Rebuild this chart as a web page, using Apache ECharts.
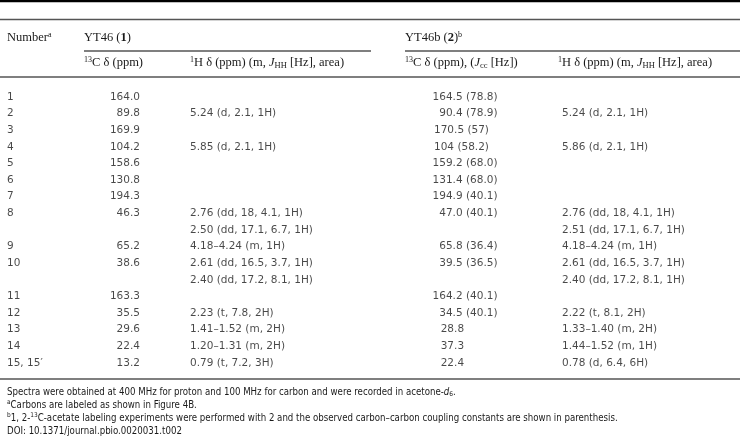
<!DOCTYPE html>
<html>
<head>
<meta charset="utf-8">
<script src="https://cdn.jsdelivr.net/npm/echarts@6/dist/echarts.min.js"></script>
<style>
  html, body { margin: 0; padding: 0; background: #fff; }
  #chart { width: 740px; height: 437px; }
</style>
</head>
<body>
<div id="chart"></div>
<script>
// ---------- DATA ----------
const carbonNumbers = ['1', '2', '3', '4', '5', '6', '7', '8', '', '9', '10', '', '11', '12', '13', '14', '15, 15\u2032'];
const yt46Carbon = ['164.0', '89.8', '169.9', '104.2', '158.6', '130.8', '194.3', '46.3', '', '65.2', '38.6', '', '163.3', '35.5', '29.6', '22.4', '13.2'];
const yt46Proton = ['', '5.24 (d, 2.1, 1H)', '', '5.85 (d, 2.1, 1H)', '', '', '', '2.76 (dd, 18, 4.1, 1H)', '2.50 (dd, 17.1, 6.7, 1H)', '4.18\u20134.24 (m, 1H)', '2.61 (dd, 16.5, 3.7, 1H)', '2.40 (dd, 17.2, 8.1, 1H)', '', '2.23 (t, 7.8, 2H)', '1.41\u20131.52 (m, 2H)', '1.20\u20131.31 (m, 2H)', '0.79 (t, 7.2, 3H)'];
const yt46bCarbon = ['164.5 (78.8)', '90.4 (78.9)', '170.5 (57)', '104 (58.2)', '159.2 (68.0)', '131.4 (68.0)', '194.9 (40.1)', '47.0 (40.1)', '', '65.8 (36.4)', '39.5 (36.5)', '', '164.2 (40.1)', '34.5 (40.1)', '28.8', '37.3', '22.4'];
const yt46bProton = ['', '5.24 (d, 2.1, 1H)', '', '5.86 (d, 2.1, 1H)', '', '', '', '2.76 (dd, 18, 4.1, 1H)', '2.51 (dd, 17.1, 6.7, 1H)', '4.18\u20134.24 (m, 1H)', '2.61 (dd, 16.5, 3.7, 1H)', '2.40 (dd, 17.2, 8.1, 1H)', '', '2.22 (t, 8.1, 2H)', '1.33\u20131.40 (m, 2H)', '1.44\u20131.52 (m, 1H)', '0.78 (d, 6.4, 6H)'];

const headerNumber = 'Number{sup|a}';
const headerGroup1 = 'YT46 ({b|1})';
const headerGroup2 = 'YT46b ({b|2}){sup|b}';
const headerC1 = '{sup|13}C \u03b4 (ppm)';
const headerH1 = '{sup|1}H \u03b4 (ppm) (m, {i|J}{sub|HH} [Hz], area)';
const headerC2 = '{sup|13}C \u03b4 (ppm), ({i|J}{sub|cc} [Hz])';
const headerH2 = '{sup|1}H \u03b4 (ppm) (m, {i|J}{sub|HH} [Hz], area)';

const footnotes = [
  'Spectra were obtained at 400 MHz for proton and 100 MHz for carbon and were recorded in acetone-{i|d}{sub|6}.',
  '{sup|a}Carbons are labeled as shown in Figure 4B.',
  '{sup|b}1, 2-{sup|13}C-acetate labeling experiments were performed with 2 and the observed carbon\u2013carbon coupling constants are shown in parenthesis.',
  'DOI: 10.1371/journal.pbio.0020031.t002'
];

// ---------- LAYOUT / STYLE ----------
const W = 740;
const BODY_FONT = 'DejaVu Sans';
const BODY_SIZE = 10.5;
const HEAD_FONT = 'Liberation Serif';
const HEAD_SIZE = 12.5;
const NOTE_FONT = '"DejaVu Sans Condensed", "Roboto Condensed", "Liberation Sans Narrow", "Open Sans", sans-serif';
const NOTE_SIZE = 9.6;
const TXT = '#1a1a1a';
const RULE = '#555';

// column anchors (scale units == px across full-width grid)
const COL = { num: 7, c1: 140, h1: 190, c2L: 434, c2R: 497.5, h2: 562 };

const rowIdx = carbonNumbers.map((_, i) => String(i));

function cellSeries(name, values, x, side, transform) {
  return {
    name: name,
    type: 'scatter',
    symbolSize: 0,
    silent: true,
    data: values.map((v, i) => v === '' ? null : { value: [x, i], text: transform ? transform(v) : v }).filter(d => d),
    label: {
      show: true,
      position: side,
      distance: 0,
      formatter: p => p.data.text,
      fontFamily: BODY_FONT,
      fontSize: BODY_SIZE,
      color: TXT
    }
  };
}

const fullPair = /^\d+\.\d \(\d+\.\d\)$/;
const c2Right = yt46bCarbon.map(v => fullPair.test(v) ? v : '');
const c2Left = yt46bCarbon.map(v => fullPair.test(v) ? '' : v);

const headRich = {
  sup: { fontFamily: HEAD_FONT, fontSize: 8, verticalAlign: 'top', lineHeight: 9, color: TXT },
  sub: { fontFamily: HEAD_FONT, fontSize: 8.5, verticalAlign: 'bottom', lineHeight: 9, color: TXT },
  i: { fontFamily: HEAD_FONT, fontSize: HEAD_SIZE, fontStyle: 'italic', lineHeight: 15, color: TXT },
  b: { fontFamily: HEAD_FONT, fontSize: HEAD_SIZE, fontWeight: 'bold', lineHeight: 15, color: TXT }
};
const noteRich = {
  sup: { fontFamily: NOTE_FONT, fontSize: 6.5, verticalAlign: 'top', lineHeight: 8, color: TXT },
  sub: { fontFamily: NOTE_FONT, fontSize: 6.5, verticalAlign: 'bottom', lineHeight: 8, color: TXT },
  i: { fontFamily: NOTE_FONT, fontSize: NOTE_SIZE, fontStyle: 'italic', lineHeight: 12, color: TXT }
};

function headText(str, x, y) {
  return {
    type: 'text', x: x, y: y, silent: true,
    style: {
      text: str, fill: TXT, font: HEAD_SIZE + 'px "' + HEAD_FONT + '"',
      lineHeight: 15, verticalAlign: 'middle', align: 'left', rich: headRich
    }
  };
}
function noteText(str, x, y) {
  return {
    type: 'text', x: x, y: y, silent: true,
    style: {
      text: str, fill: TXT, font: NOTE_SIZE + 'px ' + NOTE_FONT,
      lineHeight: 12, verticalAlign: 'middle', align: 'left', rich: noteRich
    }
  };
}
function rule(x1, x2, y, w, c) {
  return { type: 'line', silent: true, shape: { x1: x1, y1: y, x2: x2, y2: y }, style: { stroke: c, lineWidth: w } };
}

const graphics = [
  rule(0, W, 1, 2.5, '#000'),
  rule(0, W, 19.5, 1.3, RULE),
  rule(84, 371, 51, 1.3, RULE),
  rule(405, W, 51, 1.3, RULE),
  rule(0, W, 77, 1.3, RULE),
  rule(0, W, 379, 1.6, RULE),
  headText(headerNumber, 7, 38),
  headText(headerGroup1, 84, 38),
  headText(headerGroup2, 405, 38),
  headText(headerC1, 84, 63),
  headText(headerH1, 190, 63),
  headText(headerC2, 405, 63),
  headText(headerH2, 558, 63)
];
footnotes.forEach((f, i) => graphics.push(noteText(f, 7, 392 + i * 13)));

const chart = echarts.init(document.getElementById('chart'), null, { renderer: 'canvas' });
chart.setOption({
  animation: false,
  backgroundColor: '#fff',
  grid: { left: 0, right: 0, top: 88.7, height: 282.6, containLabel: false },
  xAxis: { type: 'value', min: 0, max: W, show: false },
  yAxis: { type: 'category', data: rowIdx, inverse: true, show: false },
  series: [
    cellSeries('number', carbonNumbers, COL.num, 'right'),
    cellSeries('yt46-13C', yt46Carbon, COL.c1, 'left'),
    cellSeries('yt46-1H', yt46Proton, COL.h1, 'right'),
    cellSeries('yt46b-13C-r', c2Right, COL.c2R, 'left'),
    cellSeries('yt46b-13C-l', c2Left, COL.c2L, 'right', v => /^\d{2}\.\d$/.test(v) ? '\u2007' + v : v),
    cellSeries('yt46b-1H', yt46bProton, COL.h2, 'right')
  ],
  graphic: graphics
});
</script>
</body>
</html>
